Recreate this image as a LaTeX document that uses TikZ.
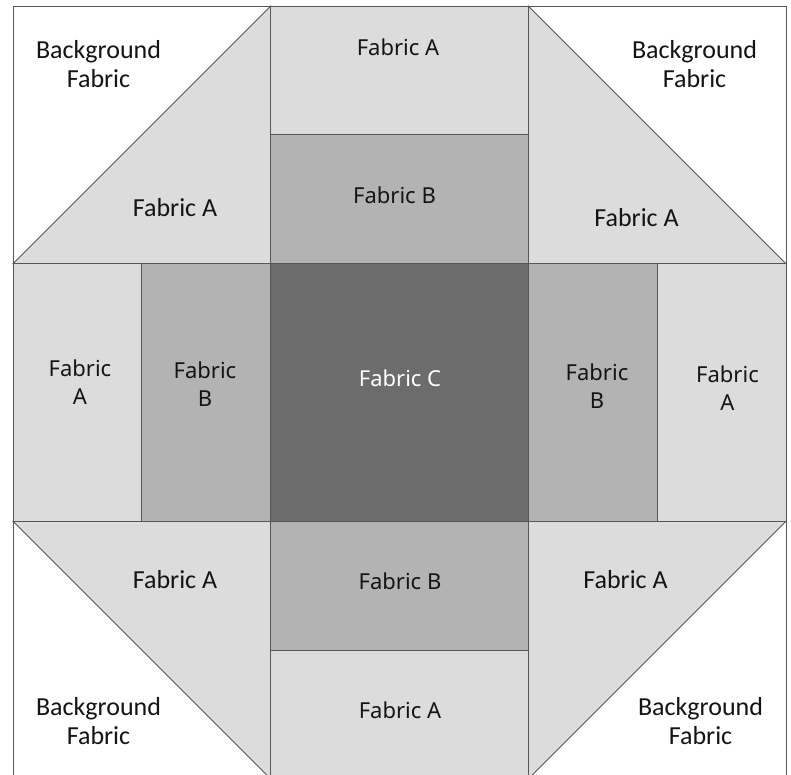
\documentclass[tikz,border=0pt]{standalone}
\usepackage{fontspec}
\setmainfont{Carlito}
\newfontfamily\gridfont{Noto Sans}
\usetikzlibrary{positioning}
\definecolor{fabA}{HTML}{DCDCDC}
\definecolor{fabB}{HTML}{B3B3B3}
\definecolor{fabC}{HTML}{6C6C6C}
\definecolor{seam}{HTML}{575757}
\definecolor{ink}{HTML}{141414}
\tikzset{
  every picture/.style={x=1pt, y=-1pt, line width=0.9pt},
  patch/.style={fill=#1, draw=seam},
  patch/.default=fabA,
  seamline/.style={draw=seam, line width=0.7pt},
  cornertext/.style={font=\fontsize{26}{29}\selectfont, text=ink, align=center},
  gridtext/.style={font=\gridfont\fontsize{22}{28}\selectfont, text=ink, align=center},
}

\begin{document}
\begin{tikzpicture}
  \useasboundingbox[fill=white] (0,0) rectangle (791,774);
  % corner squares: background fabric + half-square triangle in fabric A
  \fill[white] (13,6) rectangle (270.7,263.7);
  \fill[white] (528.3,6) rectangle (786,263.7);
  \fill[white] (13,521.3) rectangle (270.7,779);
  \fill[white] (528.3,521.3) rectangle (786,779);
  \draw[patch] (13,263.7) -- (270.7,6) -- (270.7,263.7) -- cycle;
  \draw[patch] (528.3,6) -- (786,263.7) -- (528.3,263.7) -- cycle;
  \draw[patch] (13,521.3) -- (270.7,779) -- (270.7,521.3) -- cycle;
  \draw[patch] (786,521.3) -- (528.3,779) -- (528.3,521.3) -- cycle;
  % cross: strips in fabric A and B round the centre square
  \draw[patch=fabA] (270.7,6) rectangle (528.3,134.8);
  \draw[patch=fabB] (270.7,134.8) rectangle (528.3,263.7);
  \draw[patch=fabB] (270.7,521.3) rectangle (528.3,650.2);
  \draw[patch=fabA] (270.7,650.2) rectangle (528.3,779);
  \draw[patch=fabA] (13,263.7) rectangle (141.8,521.3);
  \draw[patch=fabB] (141.8,263.7) rectangle (270.7,521.3);
  \draw[patch=fabB] (528.3,263.7) rectangle (657.2,521.3);
  \draw[patch=fabA] (657.2,263.7) rectangle (786,521.3);
  \draw[patch=fabC] (270.7,263.7) rectangle (528.3,521.3);
  % outer edge of the block
  \draw[seamline] (13,779) -- (13,6) -- (786,6) -- (786,779);
  % labels
  \node[cornertext] (bgTL) at (98.5,64) {Background\\Fabric};
  \node[cornertext] (aTL) at (175,208) {Fabric A};
  \node[cornertext] (bgTR) at (694.5,64) {Background\\Fabric};
  \node[cornertext] (aTR) at (636.5,217.5) {Fabric A};
  \node[cornertext] (aBL) at (175,580) {Fabric A};
  \node[cornertext] (bgBL) at (98.5,721) {Background\\Fabric};
  \node[cornertext] (aBR) at (625.5,580) {Fabric A};
  \node[cornertext] (bgBR) at (700.5,721) {Background\\Fabric};
  \node[gridtext] (topA) at (398,47) {Fabric A};
  \node[gridtext] (topB) at (394.5,195.5) {Fabric B};
  \node[gridtext] (botB) at (400,581) {Fabric B};
  \node[gridtext] (botA) at (400,710) {Fabric A};
  \node[gridtext] (leftA) at (80,382) {Fabric\\A};
  \node[gridtext] (leftB) at (205,384.5) {Fabric\\B};
  \node[gridtext] (rightB) at (597,386) {Fabric\\B};
  \node[gridtext] (rightA) at (727.5,388) {Fabric\\A};
  \node[gridtext, text=white] (mid) at (400,378.5) {Fabric C};
\end{tikzpicture}
\end{document}
